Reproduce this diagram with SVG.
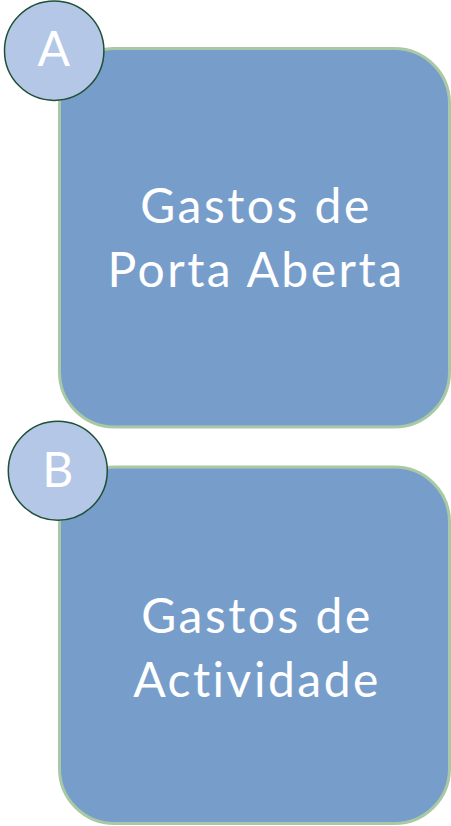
<svg xmlns="http://www.w3.org/2000/svg" width="451" height="826" viewBox="0 0 451 826">
<style>
.box{fill:#779ECB;stroke:#A9C9A4;stroke-width:3}
.badge{fill:#B4C7E7;stroke:#1E5036;stroke-width:1.5}
.lbl{font-family:Lato,"Liberation Sans",sans-serif;fill:#FFFFFF;text-anchor:middle}
.big{font-size:48px;letter-spacing:2.5px}
.small{font-size:48px}
</style>
<rect width="451" height="826" fill="#FFFFFF"/>
<g id="nodeA">
<rect class="box" x="59.5" y="48.5" width="390" height="378.5" rx="55" ry="55"/>
<text class="lbl big" x="256" y="222.7">Gastos de</text>
<text class="lbl big" x="256" y="286.7">Porta Aberta</text>
</g>
<g id="badgeA">
<circle class="badge" cx="54.2" cy="50.7" r="49.7"/>
<text class="lbl small" x="53.7" y="65.7">A</text>
</g>
<g id="nodeB">
<rect class="box" x="59.5" y="467" width="390" height="356.5" rx="55" ry="55"/>
<text class="lbl big" x="257" y="632.7">Gastos de</text>
<text class="lbl big" x="257" y="696.7">Actividade</text>
</g>
<g id="badgeB">
<circle class="badge" cx="57.8" cy="470.7" r="49.5"/>
<text class="lbl small" x="57.8" y="487.3">B</text>
</g>
<g id="connectors"></g>
</svg>
